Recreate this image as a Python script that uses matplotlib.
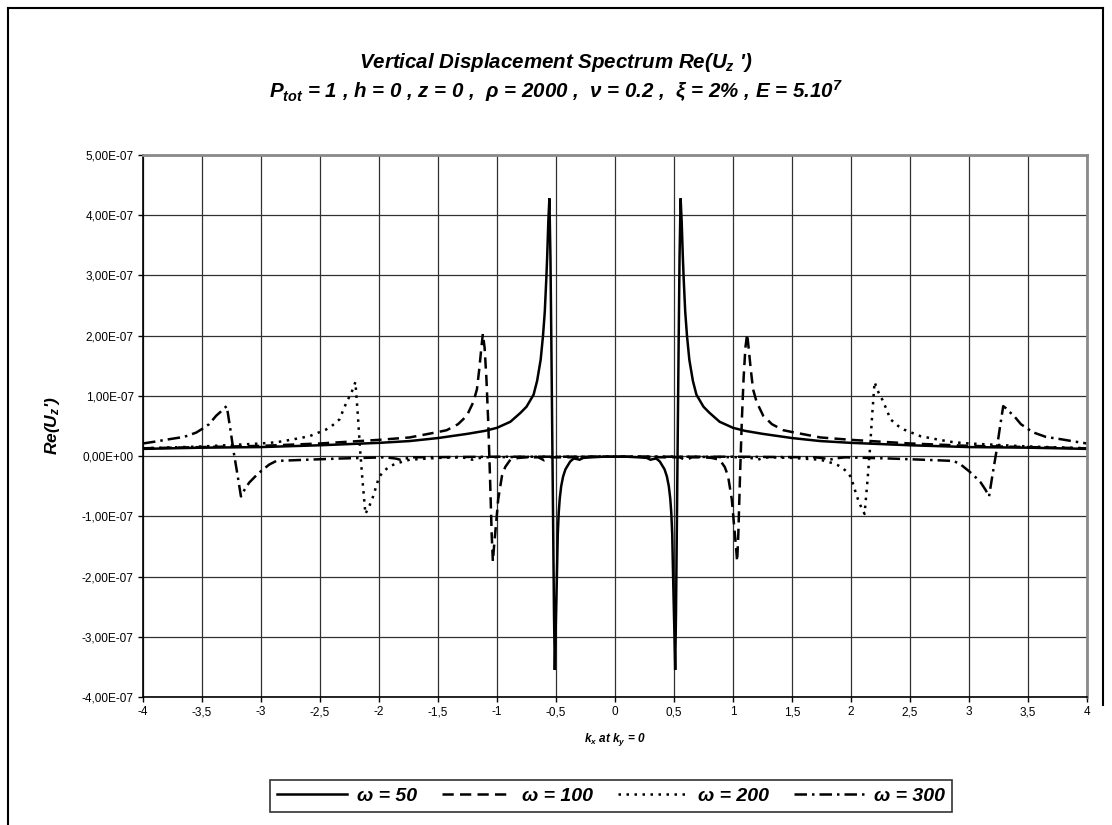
import numpy as np
import matplotlib
matplotlib.use('Agg')
import matplotlib.pyplot as plt
from matplotlib.lines import Line2D
from matplotlib.ticker import MultipleLocator, FuncFormatter

plt.rcParams['font.family'] = ['Liberation Sans', 'DejaVu Sans']
plt.rcParams['mathtext.fontset'] = 'custom'
plt.rcParams['mathtext.it'] = 'Liberation Sans:bold:italic'
plt.rcParams['mathtext.rm'] = 'Liberation Sans:bold:italic'
plt.rcParams['mathtext.bf'] = 'Liberation Sans:bold:italic'

UNIT = 1e-7  # values below in units of 1e-7

# right half (kx >= 0); the spectrum is symmetric in kx
kx_50 = [0.00, 0.10, 0.20, 0.27, 0.30, 0.32, 0.35, 0.38, 0.42, 0.44, 0.456, 0.468, 0.477,
         0.485, 0.490, 0.497, 0.503, 0.510, 0.517, 0.525, 0.533, 0.540, 0.547, 0.556, 0.565,
         0.575, 0.582, 0.595, 0.61, 0.63, 0.66, 0.69, 0.75, 0.80, 0.887, 1.00, 1.10, 1.25,
         1.50, 1.74, 2.00, 2.50, 3.00, 3.50, 4.00]
w_50 = [-0.01, -0.01, -0.02, -0.03, -0.06, -0.05, -0.04, -0.09, -0.22, -0.34, -0.50, -0.70, -0.94,
        -1.30, -1.78, -2.40, -2.90, -3.55, -2.60, -1.00, 0.60, 2.00, 3.30, 4.28, 3.90,
        3.30, 2.95, 2.40, 2.00, 1.60, 1.25, 1.02, 0.82, 0.72, 0.57, 0.47, 0.42, 0.37,
        0.30, 0.25, 0.22, 0.18, 0.15, 0.14, 0.12]

kx_100 = [0.00, 0.20, 0.40, 0.55, 0.58, 0.60, 0.62, 0.65, 0.75, 0.82, 0.887, 0.93, 0.958,
          0.99, 1.01, 1.025, 1.035, 1.045, 1.06, 1.075, 1.09, 1.105, 1.12, 1.135, 1.15,
          1.17, 1.20, 1.256, 1.33, 1.427, 1.50, 1.74, 2.00, 2.50, 3.00, 3.50, 4.00]
w_100 = [-0.01, -0.01, -0.02, -0.02, -0.05, -0.07, -0.05, -0.02, -0.02, -0.03, -0.06, -0.18, -0.33,
         -0.72, -1.17, -1.50, -1.75, -1.30, -0.30, 0.60, 1.30, 1.80, 2.03, 1.75, 1.45,
         1.11, 0.90, 0.67, 0.53, 0.43, 0.40, 0.31, 0.27, 0.21, 0.17, 0.15, 0.13]

kx_200 = [0.00, 0.60, 1.10, 1.18, 1.21, 1.24, 1.30, 1.50, 1.74, 1.85, 1.91, 1.96, 2.00,
          2.05, 2.08, 2.115, 2.14, 2.16, 2.18, 2.20, 2.22, 2.245, 2.265, 2.30, 2.335,
          2.40, 2.45, 2.59, 2.75, 2.87, 3.00, 3.50, 4.00]
w_200 = [-0.01, -0.01, -0.02, -0.04, -0.06, -0.04, -0.02, -0.03, -0.06, -0.12, -0.17, -0.25, -0.35,
         -0.67, -0.82, -0.96, -0.40, 0.10, 0.70, 1.23, 1.12, 1.00, 0.94, 0.78, 0.61,
         0.50, 0.44, 0.33, 0.27, 0.23, 0.21, 0.16, 0.13]

kx_300 = [0.00, 1.00, 1.70, 1.78, 1.82, 1.86, 1.95, 2.33, 2.61, 2.87, 2.93, 3.00, 3.05,
          3.10, 3.14, 3.17, 3.20, 3.23, 3.26, 3.29, 3.31, 3.34, 3.38, 3.44, 3.50,
          3.55, 3.65, 3.78, 3.90, 4.00]
w_300 = [-0.01, -0.01, -0.02, -0.04, -0.06, -0.04, -0.02, -0.04, -0.06, -0.08, -0.14, -0.25, -0.34,
         -0.44, -0.56, -0.67, -0.30, 0.05, 0.45, 0.83, 0.80, 0.74, 0.67, 0.53, 0.45,
         0.39, 0.32, 0.28, 0.24, 0.21]

labels = ['ω = 50', 'ω = 100', 'ω = 200', 'ω = 300']
series = [(kx_50, w_50), (kx_100, w_100), (kx_200, w_200), (kx_300, w_300)]
dash_styles = [None, (4.5, 2.5), (1.0, 2.2), (5.0, 2.0, 1.0, 2.0)]


def mirror(kx, vals):
    kx = np.asarray(kx)
    vals = np.asarray(vals)
    x = np.concatenate([-kx[::-1], kx[1:]])
    y = np.concatenate([vals[::-1], vals[1:]])
    return x, y * UNIT


fig = plt.figure(figsize=(11.12, 8.25), dpi=100)
ax = fig.add_axes([143 / 1112, 1 - 697 / 825, (1087 - 143) / 1112, (697 - 155) / 825])

handles = []
for (kx, vals), lab, ds in zip(series, labels, dash_styles):
    x, y = mirror(kx, vals)
    if ds is None:
        ln, = ax.plot(x, y, color='black', lw=1.8, label=lab, solid_joinstyle='miter')
    else:
        ln, = ax.plot(x, y, color='black', lw=1.8, label=lab, dashes=ds)
    handles.append(ln)

ax.set_xlim(-4, 4)
ax.set_ylim(-4e-7, 5e-7)
ax.xaxis.set_major_locator(MultipleLocator(0.5))
ax.yaxis.set_major_locator(MultipleLocator(1e-7))
ax.xaxis.set_major_formatter(FuncFormatter(lambda v, p: f"{v:g}".replace('.', ',') if abs(v) > 1e-9 else '0'))
ax.yaxis.set_major_formatter(FuncFormatter(lambda v, p: f"{(0.0 if abs(v) < 1e-12 else v):.2E}".replace('.', ',')))
ax.grid(True, color='#303030', lw=0.9)
ax.set_axisbelow(True)
ax.tick_params(direction='out', length=3.6, width=1, labelsize=8.5, colors='black', pad=3)
ax.tick_params(axis='x', pad=9.4)

for side in ['top', 'right']:
    ax.spines[side].set_color('#8a8a8a')
    ax.spines[side].set_linewidth(2)
for side in ['left', 'bottom']:
    ax.spines[side].set_color('black')
    ax.spines[side].set_linewidth(1.2)

ax.set_ylabel(r"Re($U_z$')", fontsize=12.5, fontweight='bold', style='italic', labelpad=14)
ax.set_xlabel(r"$k_x$ at $k_y$ = 0", fontsize=8.5, fontweight='bold', style='italic', labelpad=9)

fig.text(0.5, 1 - 62 / 825, r"Vertical Displacement Spectrum Re($U_z$ ')", ha='center', va='center',
         fontsize=14.8, fontweight='bold', style='italic')
fig.text(0.5, 1 - 91 / 825,
         r"$P_{tot}$ = 1 , h = 0 , z = 0 ,  ρ = 2000 ,  ν = 0.2 ,  ξ = 2% , E = 5.10$^{7}$",
         ha='center', va='center', fontsize=14.8, fontweight='bold', style='italic')

leg = fig.legend(handles=handles, loc='center', bbox_to_anchor=(611 / 1112, 1 - 796 / 825), ncol=4,
                 frameon=True, fancybox=False, edgecolor='black', handlelength=3.6,
                 columnspacing=1.3, handletextpad=0.5, borderpad=0.35,
                 prop={'family': ['Liberation Sans Narrow', 'Liberation Sans'], 'weight': 'bold',
                       'style': 'italic', 'size': 14})
leg.get_frame().set_linewidth(1.2)

# chart area frame
fig.add_artist(Line2D([8 / 1112, 8 / 1112], [0, 1 - 8 / 825], color='black', lw=1.5))
fig.add_artist(Line2D([8 / 1112, 1103 / 1112], [1 - 8 / 825, 1 - 8 / 825], color='black', lw=1.5))
fig.add_artist(Line2D([1103 / 1112, 1103 / 1112], [1 - 705 / 825, 1 - 8 / 825], color='black', lw=1.5))

# keep all x tick labels on one baseline
fig.canvas.draw()
for t in ax.get_xticklabels():
    t.set_va('baseline')

fig.savefig('out.png', dpi=100)
